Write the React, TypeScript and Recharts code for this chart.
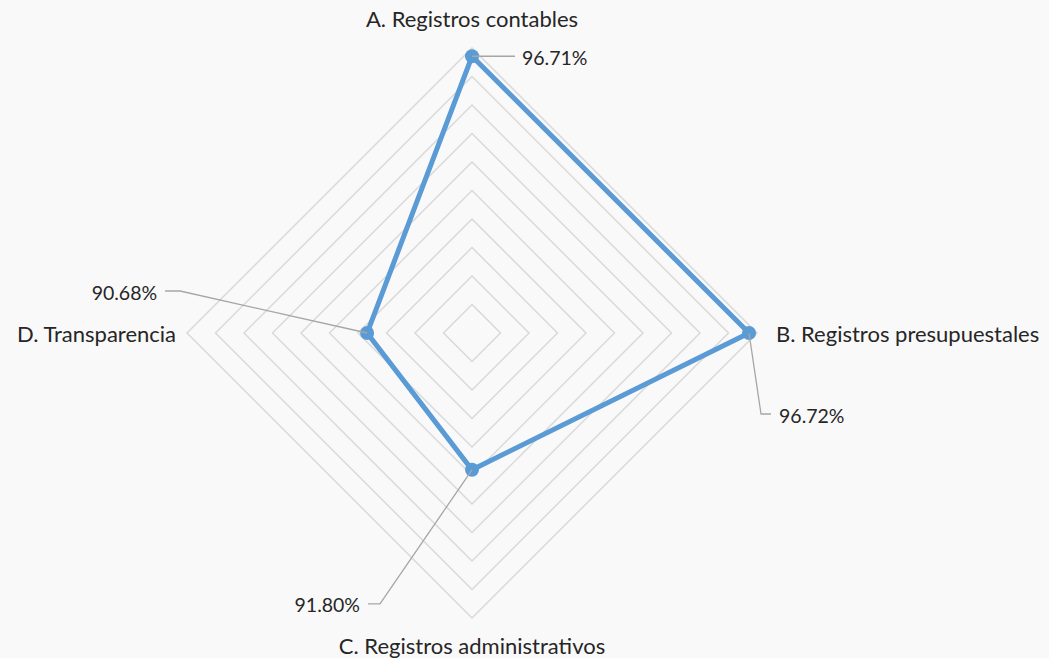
import { RadarChart, Radar, PolarGrid, PolarAngleAxis, PolarRadiusAxis, LabelList } from 'recharts'

const categories = ['A. Registros contables', 'B. Registros presupuestales', 'C. Registros administrativos', 'D. Transparencia']
const values = [96.71, 96.72, 91.8, 90.68]
const radiusDomain = [87, 97]

const data = categories.map((name, i) => ({ name, value: values[i] }))

const W = 1049
const H = 658
const CX = 472
const CY = 333
const R = 285
const BLUE = '#5B9BD5'
const TEXT = '#262626'
const FONT = 'Lato, "Open Sans", sans-serif'

// extra distance of each category label past the outer ring
const labelGap = [30, 19, 27, 11]
// leader line shapes per point: [elbow dx, elbow dy, end dx, text dx, text anchor]
const leaders: [number, number, number, number, 'start' | 'end'][] = [
  [43, 0, 43, 50, 'start'],
  [12, 81, 22, 30, 'start'],
  [-92, 134, -104, -112, 'end'],
  [-187, -42, -202, -210, 'end'],
]

function AngleTick(props: any) {
  const { x, y, payload, index } = props
  const dx = x - CX
  const dy = y - CY
  const len = Math.sqrt(dx * dx + dy * dy) || 1
  const ux = dx / len
  const uy = dy / len
  const d = R + labelGap[index]
  const px = CX + ux * d
  const py = CY + uy * d
  const anchor = Math.abs(ux) < 0.1 ? 'middle' : ux > 0 ? 'start' : 'end'
  return (
    <text x={px} y={py} textAnchor={anchor} dominantBaseline="central" fill={TEXT} fontSize={22} fontFamily={FONT}>
      {payload.value}
    </text>
  )
}

function PointLabel(props: any) {
  const { x, y, value, index } = props
  const [ex, ey, endX, tx, anchor] = leaders[index]
  const pts = `${x},${y} ${x + ex},${y + ey} ${x + endX},${y + ey}`
  return (
    <g>
      <polyline points={pts} fill="none" stroke="#a6a6a6" strokeWidth={1.3} />
      <text x={x + tx} y={y + ey + 1} textAnchor={anchor} dominantBaseline="central" fill={TEXT} fontSize={19.5} fontFamily={FONT}>
        {Number(value).toFixed(2)}%
      </text>
    </g>
  )
}

export default function App() {
  return (
    <div style={{ position: 'absolute', left: 0, top: 0, width: W, height: H, background: '#f9f9f9' }}>
      <RadarChart width={W} height={H} data={data} cx={CX} cy={CY} outerRadius={R} margin={{ top: 0, right: 0, bottom: 0, left: 0 }}>
        <PolarGrid gridType="polygon" radialLines={false} stroke="#d9d9d9" strokeWidth={1.5} />
        <PolarAngleAxis dataKey="name" tick={<AngleTick />} tickLine={false} axisLine={false} />
        <PolarRadiusAxis domain={radiusDomain} tickCount={11} tick={false} axisLine={false} />
        <Radar
          dataKey="value"
          stroke={BLUE}
          strokeWidth={5}
          fill="none"
          fillOpacity={0}
          dot={{ r: 7, fill: BLUE, stroke: 'none', fillOpacity: 1 }}
          isAnimationActive={false}
        >
          <LabelList dataKey="value" content={<PointLabel />} />
        </Radar>
      </RadarChart>
    </div>
  )
}
